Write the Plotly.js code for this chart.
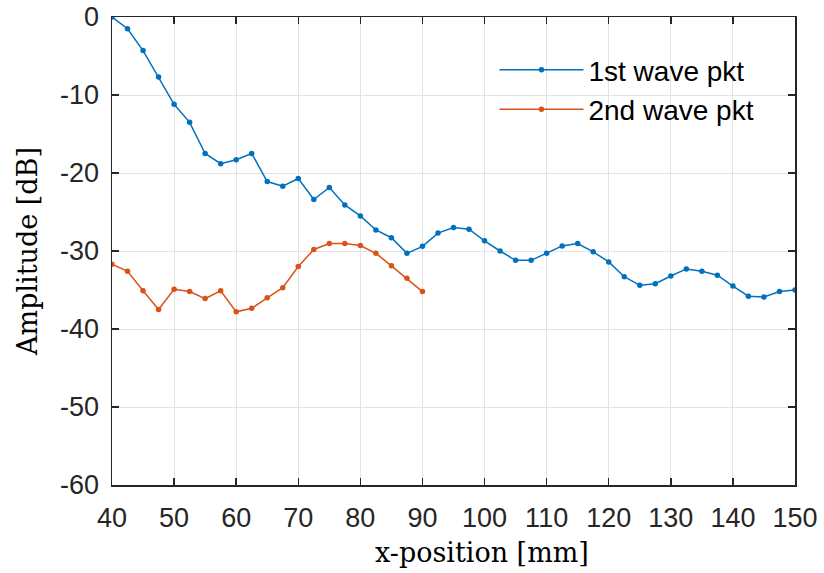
<!DOCTYPE html>
<html>
<head>
<meta charset="utf-8">
<script src="https://cdn.plot.ly/plotly-3.0.1.min.js"></script>
<style>
  html, body { margin: 0; padding: 0; background: #ffffff; }
  #chart { width: 824px; height: 573px; }
</style>
</head>
<body>
<div id="chart"></div>
<script>
// Measurement positions (mm), 2.5 mm step
const xFirst = [40, 42.5, 45, 47.5, 50, 52.5, 55, 57.5, 60, 62.5, 65, 67.5, 70, 72.5, 75, 77.5,
  80, 82.5, 85, 87.5, 90, 92.5, 95, 97.5, 100, 102.5, 105, 107.5, 110, 112.5, 115, 117.5,
  120, 122.5, 125, 127.5, 130, 132.5, 135, 137.5, 140, 142.5, 145, 147.5, 150];
const xSecond = [40, 42.5, 45, 47.5, 50, 52.5, 55, 57.5, 60, 62.5, 65, 67.5, 70, 72.5, 75, 77.5,
  80, 82.5, 85, 87.5, 90];

// Amplitudes (dB)
const ampFirst = [0, -1.5, -4.3, -7.7, -11.2, -13.5, -17.5, -18.8, -18.3, -17.5, -21.1, -21.7,
  -20.7, -23.4, -21.85, -24.1, -25.5, -27.3, -28.3, -30.3, -29.4, -27.7, -27.0, -27.2,
  -28.7, -30.0, -31.2, -31.2, -30.3, -29.35, -29.05, -30.1, -31.4, -33.3, -34.4, -34.2,
  -33.2, -32.3, -32.6, -33.1, -34.5, -35.8, -35.9, -35.2, -35.0];
const ampSecond = [-31.7, -32.6, -35.1, -37.5, -34.9, -35.2, -36.1, -35.1, -37.8, -37.35, -36.0,
  -34.7, -32.0, -29.8, -29.05, -29.05, -29.3, -30.3, -31.9, -33.5, -35.2];

const seriesNames = ['1st wave pkt', '2nd wave pkt'];
const xTicks = [40, 50, 60, 70, 80, 90, 100, 110, 120, 130, 140, 150];
const yTicks = [0, -10, -20, -30, -40, -50, -60];
const xLabel = 'x-position [mm]';
const yLabel = 'Amplitude [dB]';

const blue = '#0072BD';
const orange = '#D95319';
const axisColor = '#262626';
const gridColor = '#e3e3e3';

const traces = [
  { x: xFirst, y: ampFirst, name: seriesNames[0], type: 'scatter', mode: 'lines+markers',
    line: { color: blue, width: 1.5 }, marker: { color: blue, size: 5.5 } },
  { x: xSecond, y: ampSecond, name: seriesNames[1], type: 'scatter', mode: 'lines+markers',
    line: { color: orange, width: 1.5 }, marker: { color: orange, size: 5.5 } }
];

const tickFont = { family: 'Liberation Sans, Arial, sans-serif', size: 27, color: axisColor };
const titleFont = { family: 'DejaVu Serif, serif', size: 27, color: '#000000' };

const layout = {
  width: 824, height: 573,
  margin: { l: 112, r: 29, t: 17, b: 88 },
  paper_bgcolor: '#ffffff', plot_bgcolor: '#ffffff',
  showlegend: true,
  legend: {
    x: 0.56, y: 0.94, xanchor: 'left', yanchor: 'top',
    bgcolor: 'rgba(0,0,0,0)', borderwidth: 0,
    font: { family: 'Liberation Sans, Arial, sans-serif', size: 28, color: '#000000' },
    itemwidth: 84, tracegroupgap: 0
  },
  xaxis: {
    range: [40, 150], tickvals: xTicks, ticktext: xTicks.map(String),
    showgrid: true, gridcolor: gridColor, gridwidth: 1,
    zeroline: false, showline: true, linecolor: axisColor, linewidth: 1.5, mirror: 'ticks',
    ticks: 'inside', ticklen: 7, tickwidth: 1.5, tickcolor: axisColor,
    tickfont: tickFont, ticklabelstandoff: 8
  },
  yaxis: {
    range: [-60, 0], tickvals: yTicks, ticktext: yTicks.map(String),
    showgrid: true, gridcolor: gridColor, gridwidth: 1,
    zeroline: false, showline: true, linecolor: axisColor, linewidth: 1.5, mirror: 'ticks',
    ticks: 'inside', ticklen: 7, tickwidth: 1.5, tickcolor: axisColor,
    tickfont: tickFont, ticklabelstandoff: 6,
    title: { text: yLabel, font: titleFont, standoff: 14 }
  },
  annotations: [
    { text: xLabel, xref: 'paper', yref: 'paper', x: 0.542, y: -0.145,
      xanchor: 'center', yanchor: 'middle', showarrow: false, font: titleFont }
  ]
};

Plotly.newPlot('chart', traces, layout, { displayModeBar: false, staticPlot: true });
</script>
</body>
</html>
